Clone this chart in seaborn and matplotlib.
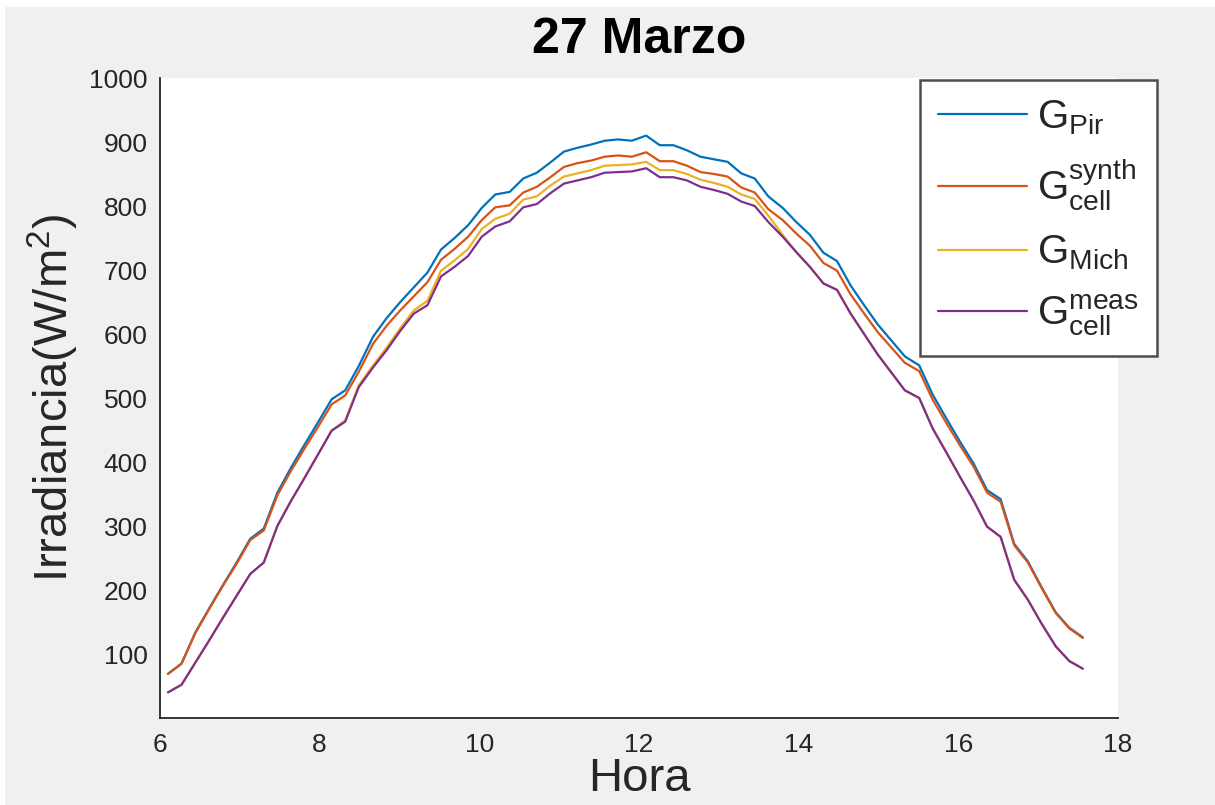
import matplotlib
matplotlib.use("Agg")
import matplotlib.pyplot as plt
import seaborn as sns
import pandas as pd
from matplotlib.patches import Rectangle

# ---- data ----
hours = [6.10, 6.27, 6.44, 6.61, 6.78, 6.96, 7.13, 7.30, 7.47, 7.64,
         7.81, 7.98, 8.15, 8.32, 8.49, 8.67, 8.84, 9.01, 9.18, 9.35,
         9.52, 9.69, 9.86, 10.03, 10.20, 10.38, 10.55, 10.72, 10.89, 11.06,
         11.23, 11.40, 11.57, 11.74, 11.91, 12.09, 12.26, 12.43, 12.60, 12.77,
         12.94, 13.11, 13.28, 13.45, 13.62, 13.80, 13.97, 14.14, 14.31, 14.48,
         14.65, 14.82, 14.99, 15.16, 15.33, 15.51, 15.68, 15.85, 16.02, 16.19,
         16.36, 16.53, 16.70, 16.87, 17.04, 17.22, 17.39, 17.56]

g_pir = [69, 85, 133, 170, 206, 243, 280, 296, 352, 391,
         427, 462, 498, 512, 550, 596, 625, 650, 673, 696,
         732, 750, 770, 797, 818, 822, 843, 852, 868, 885,
         891, 896, 902, 904, 902, 910, 895, 895, 887, 877,
         873, 869, 851, 843, 815, 797, 775, 755, 727, 714,
         676, 645, 615, 590, 565, 551, 505, 468, 432, 398,
         356, 342, 272, 245, 205, 165, 141, 126]

g_cell_synth = [69, 85, 132, 169, 205, 241, 278, 293, 348, 386,
                421, 455, 490, 504, 541, 585, 613, 637, 659, 681,
                716, 733, 752, 778, 798, 801, 821, 830, 845, 861,
                867, 871, 877, 879, 877, 884, 870, 870, 863, 853,
                850, 846, 829, 821, 795, 778, 757, 738, 711, 699,
                662, 632, 603, 579, 555, 542, 497, 461, 426, 393,
                352, 338, 270, 243, 204, 164, 140, 125]

g_mich = [40, 52, 86, 120, 155, 191, 225, 243, 300, 339,
          375, 412, 449, 465, 520, 551, 579, 609, 637, 652,
          699, 715, 733, 764, 780, 788, 810, 815, 832, 846,
          851, 856, 863, 864, 865, 869, 856, 856, 850, 841,
          836, 830, 818, 811, 785, 755, 728, 705, 679, 669,
          632, 600, 568, 540, 512, 500, 452, 415, 377, 340,
          299, 283, 216, 185, 148, 112, 89, 77]

g_cell_meas = [40, 52, 86, 120, 155, 191, 225, 243, 300, 339,
               375, 412, 449, 463, 517, 548, 575, 605, 632, 645,
               690, 705, 722, 752, 768, 776, 798, 803, 820, 835,
               840, 845, 852, 853, 854, 859, 845, 845, 840, 830,
               825, 819, 807, 800, 775, 752, 728, 705, 679, 669,
               632, 600, 568, 540, 512, 500, 452, 415, 377, 340,
               299, 283, 216, 185, 148, 112, 89, 77]

labels = [r"$\mathregular{G_{Pir}}$",
          r"$\mathregular{G_{cell}^{synth}}$",
          r"$\mathregular{G_{Mich}}$",
          r"$\mathregular{G_{cell}^{meas}}$"]
colors = ["#0072BD", "#D95319", "#EDB120", "#7E2F8E"]

x_ticks = [6, 8, 10, 12, 14, 16, 18]
y_ticks = [100, 200, 300, 400, 500, 600, 700, 800, 900, 1000]

title = "27 Marzo"
xlabel = "Hora"
ylabel = r"Irradiancia(W/m$^{\mathregular{2}}$)"

# ---- long-form table ----
series = [g_pir, g_cell_synth, g_mich, g_cell_meas]
frames = []
for lab, vals in zip(labels, series):
    frames.append(pd.DataFrame({"Hora": hours, "G": vals, "serie": lab}))
df = pd.concat(frames, ignore_index=True)

# ---- style ----
sns.set_theme(style="white")
plt.rcParams["font.family"] = ["Liberation Sans", "DejaVu Sans"]
plt.rcParams["mathtext.fontset"] = "custom"
plt.rcParams["mathtext.rm"] = "Liberation Sans"
plt.rcParams["mathtext.it"] = "Liberation Sans"
plt.rcParams["mathtext.bf"] = "Liberation Sans:bold"

axcol = "#262626"
fig = plt.figure(figsize=(12.15, 8.05), dpi=100, facecolor="#f0f0f0")
# thin white border strip at top and left as in the reference
fig.patches.append(Rectangle((0, 1 - 7 / 805), 1, 7 / 805, transform=fig.transFigure,
                             facecolor="white", edgecolor="none", zorder=0))
fig.patches.append(Rectangle((0, 0), 5 / 1215, 1, transform=fig.transFigure,
                             facecolor="white", edgecolor="none", zorder=0))

ax = fig.add_axes([160 / 1215, 1 - 718 / 805, (1118 - 160) / 1215, (718 - 78) / 805])
ax.set_facecolor("white")

sns.lineplot(data=df, x="Hora", y="G", hue="serie", hue_order=labels,
             palette=colors, linewidth=1.6, ax=ax, legend=False, sort=False)

ax.set_xlim(6, 18)
ax.set_ylim(0, 1000)
ax.set_xticks(x_ticks)
ax.set_yticks(y_ticks)
ax.set_xticklabels([str(t) for t in x_ticks])
ax.set_yticklabels([str(t) for t in y_ticks])

for s in ["top", "right"]:
    ax.spines[s].set_visible(False)
for s in ["left", "bottom"]:
    ax.spines[s].set_color(axcol)
    ax.spines[s].set_linewidth(1.3)

ax.tick_params(axis="both", direction="in", length=7, width=1.2, color=axcol,
               labelsize=19, labelcolor=axcol, pad=9)
ax.tick_params(axis="x", pad=11)

ax.set_title(title, fontsize=36, fontweight="bold", color="black", pad=18)
ax.set_xlabel(xlabel, fontsize=34, color=axcol, labelpad=0)
ax.set_ylabel(ylabel, fontsize=34, color=axcol, labelpad=6)

# legend
handles = [plt.Line2D([], [], color=c, linewidth=1.6) for c in colors]
leg = fig.legend(handles, labels, loc="upper left",
                 bbox_to_anchor=(920 / 1215, 1 - 80 / 805),
                 bbox_transform=fig.transFigure,
                 fontsize=29, frameon=True, fancybox=False, framealpha=1,
                 edgecolor="#4d4d4d", facecolor="white",
                 handlelength=2.2, handletextpad=0.25, labelspacing=0.5,
                 borderpad=0.45, borderaxespad=0)
leg.get_frame().set_linewidth(1.8)

fig.savefig("out.png", dpi=100, facecolor=fig.get_facecolor())
